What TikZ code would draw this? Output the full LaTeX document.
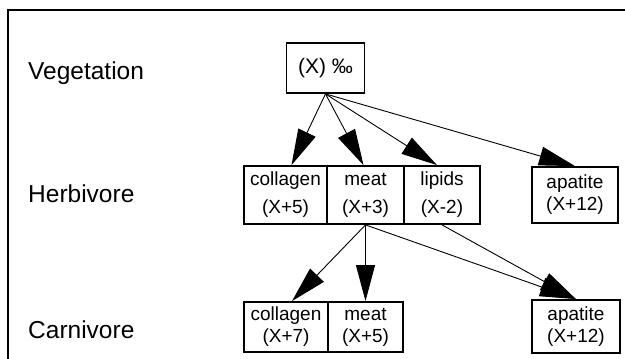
\documentclass[tikz,border=0pt]{standalone}
\usepackage{fontspec}
\setmainfont{Liberation Sans}
\usetikzlibrary{arrows.meta}
\begin{document}
\begin{tikzpicture}[x=1pt,y=-1pt,
  lbl/.style={font=\fontsize{24.5}{28}\selectfont, anchor=west, inner sep=0pt},
  box/.style={draw, line width=1.8pt, inner sep=0pt, align=center,
    font=\fontsize{19}{28}\selectfont},
  cbox/.style={box, font=\fontsize{19}{22}\selectfont},
  arr/.style={line width=0.9pt, -{Triangle[length=36pt,width=19pt]}}]
\useasboundingbox (0,0) rectangle (625,359);
\draw[line width=1.8pt] (8,359) -- (8,10) -- (625,10);
\node[lbl] (veg) at (28,73) {Vegetation};
\node[lbl] (herb) at (28,194) {Herbivore};
\node[lbl] (carn) at (28,330) {Carnivore};
\node[box, font=\fontsize{21}{24}\selectfont, minimum width=78pt, minimum height=50pt] (top) at (325.5,68) {(X) ‰};
\node[box, minimum width=83pt, minimum height=58pt] (hcol) at (285.5,195) {collagen\\(X+5)};
\node[box, minimum width=77pt, minimum height=58pt] (hmeat) at (365.5,195) {meat\\(X+3)};
\node[box, minimum width=76pt, minimum height=58pt] (hlip) at (442,195) {lipids\\(X-2)};
\node[cbox, minimum width=86pt, minimum height=56pt] (hapa) at (575,195) {apatite\\(X+12)};
\node[cbox, minimum width=84pt, minimum height=50pt] (ccol) at (286,327) {collagen\\(X+7)};
\node[cbox, minimum width=75pt, minimum height=50pt] (cmeat) at (365.5,327) {meat\\(X+5)};
\node[cbox, minimum width=88pt, minimum height=53pt] (capa) at (576,326.5) {apatite\\(X+12)};
\draw[arr] (top.south) -- ([xshift=6pt]hcol.north);
\draw[arr] (top.south) -- ([xshift=-2pt]hmeat.north);
\draw[arr] (top.south) -- ([xshift=-5pt]hlip.north);
\draw[arr] (top.south) -- (hapa.north);
\draw[arr] (hmeat.south) -- ([xshift=6pt]ccol.north);
\draw[arr] (hmeat.south) -- (cmeat.north);
\draw[arr] (hmeat.south) -- (capa.north);
\draw[arr] (hlip.south) -- (capa.north);
\end{tikzpicture}
\end{document}
